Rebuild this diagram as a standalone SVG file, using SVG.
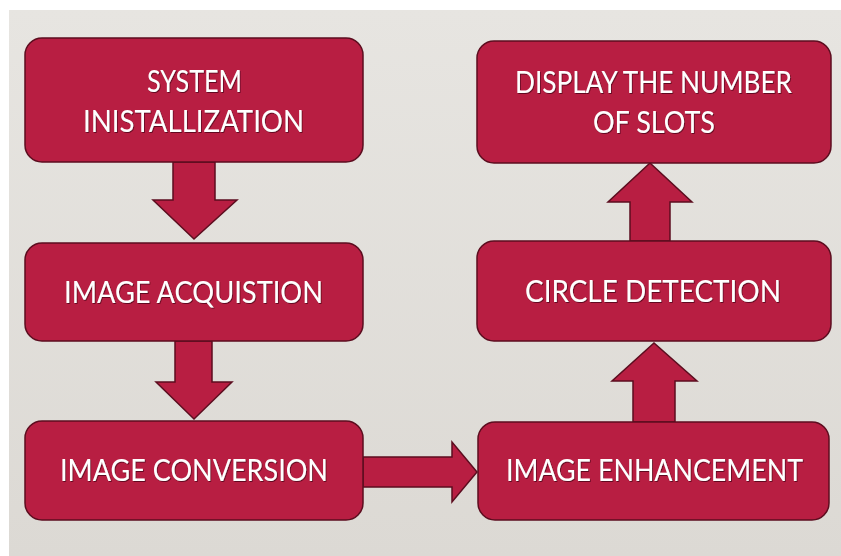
<svg xmlns="http://www.w3.org/2000/svg" width="841" height="556" viewBox="0 0 841 556">
<style>
.box{fill:#b81e42;stroke:#5c0d1f;stroke-width:1.5}
.arr{fill:#b81e42;stroke:#5c0d1f;stroke-width:1.5;stroke-linejoin:miter}
.lbl{font-family:"Lato","Open Sans","Liberation Sans",sans-serif;font-size:30px;fill:#ffffff;text-anchor:middle;filter:url(#ts)}
</style>
<defs>
<linearGradient id="bg" x1="0" y1="0" x2="0" y2="1">
<stop offset="0" stop-color="#e7e5e1"/>
<stop offset="1" stop-color="#dcd9d4"/>
</linearGradient>
<filter id="ts" x="-10%" y="-30%" width="120%" height="160%">
<feDropShadow dx="0.8" dy="1" stdDeviation="0.6" flood-color="#3a0510" flood-opacity="0.7"/>
</filter>
</defs>
<rect x="0" y="0" width="841" height="556" fill="#ffffff"/>
<rect x="9" y="10" width="832" height="546" fill="url(#bg)"/>
<g id="connectors">
<polygon class="arr" points="173,162 215,162 215,200 237,200 194,239 153,200 173,200"/>
<polygon class="arr" points="175,341 212,341 212,382 232,382 194,419 156,382 175,382"/>
<polygon class="arr" points="363,457 452,457 452,442 477,472 452,502 452,487 363,487"/>
<polygon class="arr" points="633,422 633,381 612,381 654,343 697,381 675,381 675,422"/>
<polygon class="arr" points="630,241 630,202 608,202 650,163 692,202 670,202 670,241"/>
</g>
<g id="node-system">
<rect class="box" x="25" y="38" width="338" height="124" rx="17"/>
<text class="lbl" x="194.5" y="92" textLength="95" lengthAdjust="spacingAndGlyphs">SYSTEM</text>
<text class="lbl" x="193.5" y="132" textLength="221" lengthAdjust="spacingAndGlyphs">INISTALLIZATION</text>
</g>
<g id="node-acquisition">
<rect class="box" x="25" y="243" width="338" height="98" rx="17"/>
<text class="lbl" x="193.5" y="303" textLength="259" lengthAdjust="spacingAndGlyphs">IMAGE ACQUISTION</text>
</g>
<g id="node-conversion">
<rect class="box" x="25" y="421" width="338" height="99" rx="17"/>
<text class="lbl" x="194" y="481" textLength="268" lengthAdjust="spacingAndGlyphs">IMAGE CONVERSION</text>
</g>
<g id="node-enhancement">
<rect class="box" x="478" y="422" width="351" height="98" rx="17"/>
<text class="lbl" x="654.5" y="481" textLength="297" lengthAdjust="spacingAndGlyphs">IMAGE ENHANCEMENT</text>
</g>
<g id="node-circle">
<rect class="box" x="477" y="241" width="354" height="100" rx="17"/>
<text class="lbl" x="653" y="302" textLength="256" lengthAdjust="spacingAndGlyphs">CIRCLE DETECTION</text>
</g>
<g id="node-display">
<rect class="box" x="477" y="41" width="354" height="122" rx="17"/>
<text class="lbl" x="653.5" y="93" textLength="277" lengthAdjust="spacingAndGlyphs">DISPLAY THE NUMBER</text>
<text class="lbl" x="654" y="133" textLength="122" lengthAdjust="spacingAndGlyphs">OF SLOTS</text>
</g>
</svg>
